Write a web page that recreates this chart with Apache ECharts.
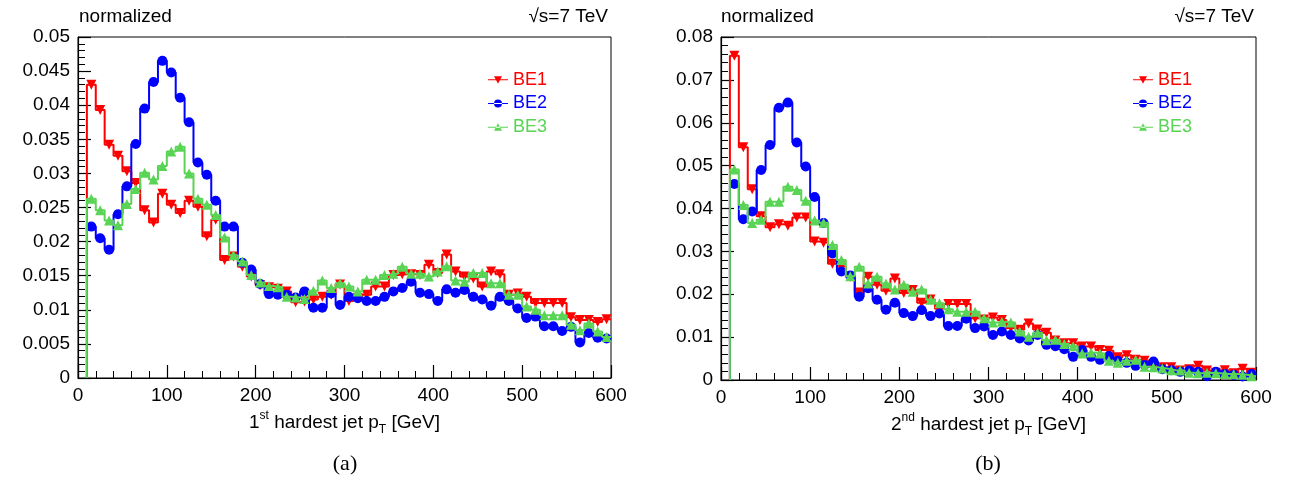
<!DOCTYPE html>
<html><head><meta charset="utf-8">
<script src="https://cdn.jsdelivr.net/npm/echarts@6/dist/echarts.min.js"></script>
<style>html,body{margin:0;padding:0;background:#fff}#c{width:1290px;height:485px}</style>
</head><body><div id="c"></div>
<script>
// histogram bins (low edges, GeV) and width
const binLow = [10,20,30,40,50,60,70,80,90,100,110,120,130,140,150,160,170,180,190,200,
  210,220,230,240,250,260,270,280,290,300,310,320,330,340,350,360,370,380,390,400,
  410,420,430,440,450,460,470,480,490,500,510,520,530,540,550,560,570,580,590];
const binWidth = 10;

// (a) 1st hardest jet pT
const a_BE1 = [0.0430,0.0393,0.0342,0.0326,0.0303,0.0286,0.0246,0.0228,0.0270,0.0254,
  0.0242,0.0260,0.0251,0.0208,0.0232,0.0173,0.0178,0.0163,0.0149,0.0136,
  0.0133,0.0131,0.0127,0.0111,0.0112,0.0115,0.0119,0.0122,0.0137,0.0113,
  0.0117,0.0122,0.0134,0.0134,0.0151,0.0152,0.0152,0.0151,0.0166,0.0154,
  0.0181,0.0156,0.0149,0.0146,0.0134,0.0156,0.0152,0.0122,0.0124,0.0119,
  0.0110,0.0110,0.0110,0.0110,0.0089,0.0085,0.0085,0.0082,0.0086];
const a_BE2 = [0.0222,0.0205,0.0188,0.0240,0.0281,0.0343,0.0395,0.0434,0.0465,0.0448,
  0.0411,0.0375,0.0316,0.0298,0.0260,0.0222,0.0222,0.0169,0.0159,0.0138,
  0.0123,0.0122,0.0122,0.0118,0.0127,0.0103,0.0103,0.0124,0.0107,0.0119,
  0.0117,0.0113,0.0113,0.0119,0.0127,0.0132,0.0141,0.0125,0.0123,0.0113,
  0.0130,0.0125,0.0129,0.0119,0.0115,0.0106,0.0119,0.0113,0.0102,0.0088,
  0.0090,0.0076,0.0076,0.0069,0.0075,0.0052,0.0066,0.0059,0.0058];
const a_BE3 = [0.0263,0.0246,0.0231,0.0224,0.0255,0.0277,0.0301,0.0291,0.0311,0.0332,
  0.0339,0.0300,0.0263,0.0254,0.0239,0.0206,0.0180,0.0171,0.0151,0.0140,
  0.0135,0.0133,0.0119,0.0118,0.0116,0.0128,0.0143,0.0132,0.0139,0.0134,
  0.0127,0.0144,0.0144,0.0151,0.0153,0.0163,0.0153,0.0153,0.0149,0.0156,
  0.0164,0.0143,0.0141,0.0154,0.0154,0.0139,0.0139,0.0122,0.0122,0.0105,
  0.0100,0.0092,0.0092,0.0092,0.0078,0.0070,0.0080,0.0068,0.0060];

// (b) 2nd hardest jet pT
const b_BE1 = [0.0756,0.0543,0.0445,0.0382,0.0356,0.0363,0.0360,0.0379,0.0379,0.0323,
  0.0320,0.0271,0.0265,0.0241,0.0204,0.0241,0.0222,0.0208,0.0237,0.0203,
  0.0210,0.0180,0.0188,0.0166,0.0177,0.0177,0.0177,0.0144,0.0141,0.0146,
  0.0140,0.0121,0.0117,0.0132,0.0118,0.0110,0.0092,0.0086,0.0086,0.0078,
  0.0078,0.0070,0.0068,0.0053,0.0058,0.0047,0.0045,0.0031,0.0030,0.0030,
  0.0022,0.0025,0.0033,0.0022,0.0017,0.0023,0.0016,0.0026,0.0017];
const b_BE2 = [0.0457,0.0375,0.0393,0.0490,0.0548,0.0635,0.0647,0.0554,0.0498,0.0427,
  0.0366,0.0295,0.0253,0.0244,0.0194,0.0214,0.0187,0.0164,0.0180,0.0156,
  0.0149,0.0163,0.0149,0.0155,0.0126,0.0126,0.0143,0.0121,0.0125,0.0105,
  0.0113,0.0105,0.0097,0.0092,0.0105,0.0082,0.0079,0.0072,0.0054,0.0070,
  0.0054,0.0047,0.0056,0.0045,0.0040,0.0033,0.0035,0.0043,0.0025,0.0023,
  0.0019,0.0022,0.0019,0.0009,0.0019,0.0014,0.0012,0.0008,0.0014];
const b_BE3 = [0.0491,0.0408,0.0366,0.0374,0.0416,0.0416,0.0451,0.0443,0.0418,0.0372,
  0.0367,0.0315,0.0280,0.0242,0.0264,0.0225,0.0241,0.0225,0.0211,0.0222,
  0.0206,0.0211,0.0187,0.0179,0.0165,0.0159,0.0159,0.0159,0.0144,0.0134,
  0.0136,0.0134,0.0113,0.0101,0.0110,0.0093,0.0094,0.0084,0.0079,0.0062,
  0.0064,0.0062,0.0045,0.0040,0.0045,0.0047,0.0031,0.0030,0.0027,0.0023,
  0.0022,0.0017,0.0016,0.0017,0.0016,0.0014,0.0014,0.0012,0.0009];

const seriesNames = ['BE1','BE2','BE3'];
const colors = ['#ff0000','#0000ff','#59d454'];
const FONT = 'Liberation Sans, Arial, Helvetica, sans-serif';

function stepData(vals){
  const d = [[binLow[0], 0]];
  vals.forEach((v,i)=>d.push([binLow[i], v]));
  const n = vals.length - 1;
  d.push([binLow[n] + binWidth, vals[n]]);
  return d;
}
function markerData(vals){ return vals.map((v,i)=>[binLow[i] + binWidth/2, v]); }

const markerDefs = [
  {symbol:'triangle', rotate:180},
  {symbol:'circle', rotate:0},
  {symbol:'triangle', rotate:0}
];

function makeSeries(gi, sets){
  const out = [];
  sets.forEach((vals, k)=>{
    out.push({
      type:'line', name:seriesNames[k], xAxisIndex:gi, yAxisIndex:gi,
      data: stepData(vals), step:'end', symbol:'none', showSymbol:false,
      lineStyle:{color:colors[k], width:2}, itemStyle:{color:colors[k]},
      silent:true, z:2+k
    });
    out.push({
      type:'scatter', name:seriesNames[k], xAxisIndex:gi, yAxisIndex:gi,
      data: markerData(vals), symbol: markerDefs[k].symbol, symbolRotate: markerDefs[k].rotate,
      symbolSize: 10, itemStyle:{color:colors[k], opacity:1}, silent:true, z:2+k
    });
  });
  return out;
}

const legendIcons = [
  'path://M0,4.4H20V5.6H0Z M6,1.5H14L10,9Z',
  'path://M0,4.4H20V5.6H0Z M6,5A4,4 0 1 0 14,5A4,4 0 1 0 6,5Z',
  'path://M0,4.4H20V5.6H0Z M6,8.5H14L10,1Z'
];
function legendData(){
  return seriesNames.map((n,k)=>({name:n, icon:legendIcons[k], itemStyle:{color:colors[k]},
    textStyle:{color:colors[k], fontSize:18, fontFamily:FONT}}));
}

const grids = [
  {left:78, top:37, width:533, height:341},
  {left:721, top:37, width:535, height:343}
];
const yMax = [0.05, 0.08];
const yInterval = [0.005, 0.01];
const xNames = [
  '{n|1}{sup|st}{n| hardest jet p}{sub|T}{n| [GeV]}',
  '{n|2}{sup|nd}{n| hardest jet p}{sub|T}{n| [GeV]}'
];
const rich = {
  n:{fontSize:19, fontFamily:FONT, color:'#000', lineHeight:26},
  sup:{fontSize:12, fontFamily:FONT, color:'#000', lineHeight:12, verticalAlign:'top'},
  sub:{fontSize:12, fontFamily:FONT, color:'#000', lineHeight:12, verticalAlign:'bottom'}
};

const axisCommon = {
  axisLine:{show:true, onZero:false, lineStyle:{color:'#000', width:1.2}},
  axisTick:{show:true, inside:true, length:13, lineStyle:{color:'#000', width:1.2}},
  minorTick:{show:true, splitNumber:5, length:7, lineStyle:{color:'#000', width:1}},
  splitLine:{show:false},
  axisLabel:{color:'#000', fontSize:19, fontFamily:FONT, margin:8}
};

const option = {
  animation:false,
  backgroundColor:'#fff',
  grid: grids.map(g=>Object.assign({show:true, borderColor:'#000', borderWidth:1, backgroundColor:'transparent'}, g)),
  xAxis: [0,1].map(i=>Object.assign({}, axisCommon, {
    type:'value', gridIndex:i, min:0, max:600, interval:100,
    name:xNames[i], nameLocation:'middle', nameGap:32, nameTextStyle:{rich:rich}
  })),
  yAxis: [0,1].map(i=>Object.assign({}, axisCommon, {
    type:'value', gridIndex:i, min:0, max:yMax[i], interval:yInterval[i]
  })),
  legend: [
    {left:488, top:71, orient:'vertical', itemWidth:20, itemHeight:10, itemGap:5.5, padding:0,
     selectedMode:false, data:legendData()},
    {left:1133, top:71, orient:'vertical', itemWidth:20, itemHeight:10, itemGap:5.5, padding:0,
     selectedMode:false, data:legendData()}
  ],
  title: [
    {text:'normalized', left:79, top:7, padding:0, textStyle:{fontSize:19, fontWeight:'normal', fontFamily:FONT, color:'#000'}},
    {text:'normalized', left:721, top:7, padding:0, textStyle:{fontSize:19, fontWeight:'normal', fontFamily:FONT, color:'#000'}},
    {text:'\u221As=7 TeV', right:682, top:7, padding:0, textStyle:{fontSize:19, fontWeight:'normal', fontFamily:FONT, color:'#000'}},
    {text:'\u221As=7 TeV', right:36, top:7, padding:0, textStyle:{fontSize:19, fontWeight:'normal', fontFamily:FONT, color:'#000'}},
    {text:'(a)', left:345, textAlign:'center', top:453, padding:0, textStyle:{fontSize:22, fontWeight:'normal', fontFamily:'Liberation Serif, DejaVu Serif, serif', color:'#000'}},
    {text:'(b)', left:988, textAlign:'center', top:453, padding:0, textStyle:{fontSize:22, fontWeight:'normal', fontFamily:'Liberation Serif, DejaVu Serif, serif', color:'#000'}}
  ],
  series: [].concat(makeSeries(0,[a_BE1,a_BE2,a_BE3]), makeSeries(1,[b_BE1,b_BE2,b_BE3]))
};

const chart = echarts.init(document.getElementById('c'), null, {renderer:'canvas'});
chart.setOption(option);
</script>
</body></html>
